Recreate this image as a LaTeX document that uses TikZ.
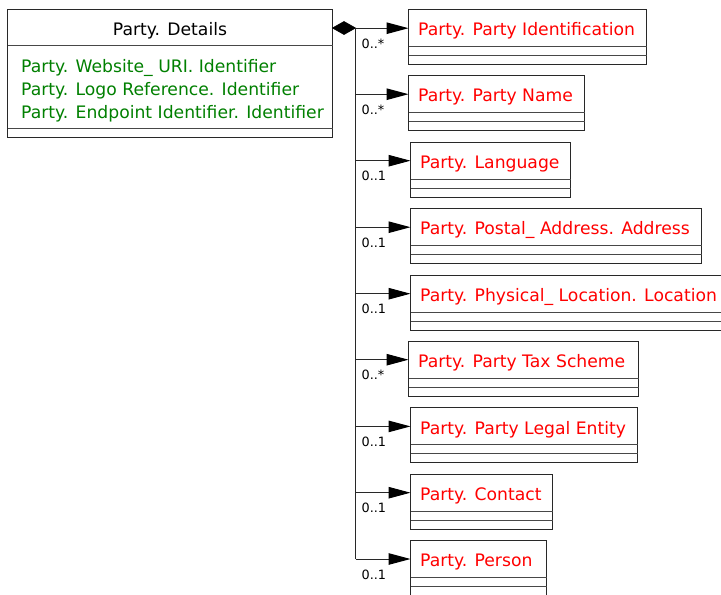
\documentclass[tikz,border=0pt]{standalone}
\usepackage{fontspec}
\setmainfont{DejaVu Sans}
\usetikzlibrary{arrows.meta}
\definecolor{umlgreen}{RGB}{0,128,0}
\definecolor{umlred}{RGB}{255,0,0}
\definecolor{umlline}{RGB}{40,40,40}
\tikzset{
  boxline/.style={draw=umlline, line width=1pt},
  sepline/.style={draw=umlline!85, line width=1pt},
  headtext/.style={anchor=base, inner sep=0pt, font=\fontsize{17.2}{20}\selectfont, text=black},
  attrtext/.style={anchor=base west, inner sep=0pt, font=\fontsize{17.2}{20}\selectfont, text=umlgreen},
  classtext/.style={anchor=base west, inner sep=0pt, font=\fontsize{17.2}{20}\selectfont, text=umlred},
  multtext/.style={anchor=base west, inner sep=0pt, font=\fontsize{12.8}{14}\selectfont, text=black},
  assoc/.style={draw=umlline, line width=1pt, -{Triangle[length=22pt,width=11.5pt,fill=black,color=black]}},
  comp/.style={fill=black, draw=black, line width=0.6pt}
}
\begin{document}
\begin{tikzpicture}[x=1pt,y=-1pt]
\useasboundingbox (0,0) rectangle (721,595);
\clip (0,0) rectangle (721,595);
\fill[white] (0,0) rectangle (721,595);
% main class
\draw[boxline] (7.5,9.5) rectangle (332.5,137.5);
\draw[sepline] (7.5,45.5) -- (332.5,45.5);
\draw[sepline] (7.5,128.5) -- (332.5,128.5);
\node[headtext] (details) at (170,35) {Party. Details};
\node[attrtext] (a1) at (21,72) {Party. Website\_ URI. Identifier};
\node[attrtext] (a2) at (21,95) {Party. Logo Reference. Identifier};
\node[attrtext] (a3) at (21,118.3) {Party. Endpoint Identifier. Identifier};
% composition diamond
\coordinate (dstart) at (332.5,28);
\coordinate (dend) at (355.5,28);
\fill[comp] (dstart) -- (344,21.5) -- (dend) -- (344,34.5) -- cycle;
% trunk
\coordinate (trunkbot) at (355.5,559);
\draw[boxline] (dend) -- (trunkbot);
% classes
\foreach \l/\r/\t/\txt/\nm/\mult in {
  408.5/646.5/9.5/{Party. Party Identification}/c1/{0..*},
  408.5/584.5/75.5/{Party. Party Name}/c2/{0..*},
  410.5/570.5/142/{Party. Language}/c3/{0..1},
  410.5/701.5/208.5/{Party. Postal\_ Address. Address}/c4/{0..1},
  410.5/740/275/{Party. Physical\_ Location. Location}/c5/{0..1},
  408.5/638.5/341/{Party. Party Tax Scheme}/c6/{0..*},
  410.5/637.5/407.7/{Party. Party Legal Entity}/c7/{0..1},
  410.5/552.5/474/{Party. Contact}/c8/{0..1},
  410.5/546.5/540.3/{Party. Person}/c9/{0..1}}
{
  \draw[boxline] (\l,\t) rectangle (\r,\t+55);
  \draw[sepline] (\l,\t+37) -- (\r,\t+37);
  \draw[sepline] (\l,\t+46) -- (\r,\t+46);
  \node[classtext] (\nm) at (\l+9.5,\t+26.3) {\txt};
  \coordinate (\nm in) at (\l,\t+18.7);
  \coordinate (\nm tr) at (355.5,\t+18.7);
  \draw[assoc] (\nm tr) -- (\nm in);
  \node[multtext] (\nm m) at (361.5,\t+38.7) {\mult};
}
\end{tikzpicture}
\end{document}
